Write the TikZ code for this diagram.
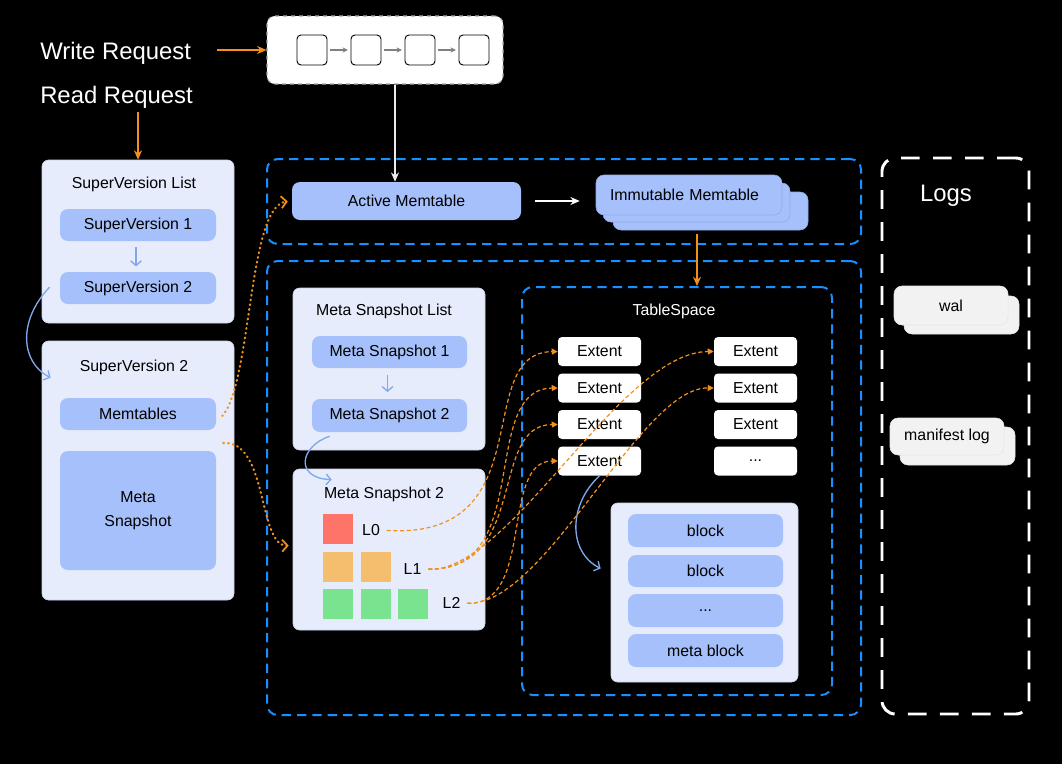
\documentclass[tikz,border=0pt]{standalone}
\usepackage{fontspec}
\setmainfont{Liberation Sans}
\usetikzlibrary{arrows.meta,calc}
\definecolor{panelc}{HTML}{E6ECFC}
\definecolor{panelb}{HTML}{CDD4E6}
\definecolor{innerc}{HTML}{A5C0FA}
\definecolor{innerb}{HTML}{8FAAE6}
\definecolor{dashblue}{HTML}{1A8FFF}
\definecolor{orng}{HTML}{F39019}
\definecolor{lightarr}{HTML}{7FA8EC}
\definecolor{logc}{HTML}{F2F2F2}
\definecolor{redc}{HTML}{FF7468}
\definecolor{orc}{HTML}{F5BE6E}
\definecolor{grc}{HTML}{7AE38F}
\begin{document}
\begin{tikzpicture}[x=0.75pt,y=-0.75pt,
  font=\fontsize{11.9}{14}\selectfont,
  sz/.style 2 args={minimum width=#1*0.75pt,minimum height=#2*0.75pt,inner sep=0pt},
  panel/.style={draw=panelb,fill=panelc,rounded corners=5pt,line width=0.5pt},
  inner/.style={fill=innerc,rounded corners=6pt},
  stackbox/.style={fill=innerc,draw=innerb,line width=0.4pt,rounded corners=6pt},
  extbox/.style={fill=white,rounded corners=3pt},
  logbox/.style={fill=logc,draw=white!80!gray,line width=0.4pt,rounded corners=6pt},
  dashbox/.style={draw=dashblue,line width=1.5pt,dash pattern=on 7pt off 4.5pt,rounded corners=8pt},
  sqbox/.style={draw=black,fill=white,line width=0.7pt,rounded corners=3pt},
  lvl/.style={sz={30}{30}},
  bigtext/.style={text=white,font=\fontsize{17.9}{20}\selectfont},
  title/.style={inner sep=0pt},
  orarrow/.style={draw=orng,line width=1.3pt,-{Stealth[length=7pt,width=6pt]}},
  wharrow/.style={draw=white,line width=1pt,-{Stealth[length=7pt,width=6pt]}},
  blarrow/.style={draw=lightarr,line width=1pt,-{Straight Barb[length=3.5pt,width=8pt]}},
  dotarrow/.style={draw=orng,line width=1.6pt,line cap=round,dash pattern=on 0.6pt off 3pt,-{Straight Barb[length=4pt,width=9pt,line width=1.3pt]}},
  dasharrow/.style={draw=orng,line width=0.9pt,dash pattern=on 3pt off 2pt,shorten <=5pt,-{Triangle[length=4.5pt,width=4.5pt]}},
]
\fill[black] (0,0) rectangle (1062,764);
\useasboundingbox (0,0) rectangle (1062,764);

% requests
\node[bigtext,anchor=west,inner sep=0pt] (wr) at (40,53) {Write Request};
\node[bigtext,anchor=west,inner sep=0pt] (rr) at (40,97) {Read Request};

% queue
\node[fill=white,draw=gray!70,dashed,line width=0.8pt,rounded corners=6pt,sz={236}{68}] (q) at (385,50) {};
\node[sqbox,sz={30}{30}] (q1) at (312,50) {};
\node[sqbox,sz={30}{30}] (q2) at (366,50) {};
\node[sqbox,sz={30}{30}] (q3) at (420,50) {};
\node[sqbox,sz={30}{30}] (q4) at (474,50) {};
\foreach \a/\b in {q1/q2,q2/q3,q3/q4}
  \draw[gray,line width=0.8pt,-{Stealth[length=4pt,width=4pt]},shorten <=2pt,shorten >=2pt] (\a) -- (\b);
\coordinate (wa) at (217,50);
\draw[orarrow] (wa) -- (q.west);

% SuperVersion list
\node[panel,sz={192}{163}] (svl) at (138,241.5) {};
\node[title] (svlt) at (134,184) {SuperVersion List};
\node[inner,sz={156}{32}] (sv1) at (138,225) {SuperVersion 1};
\node[inner,sz={156}{32}] (sv2) at (138,288) {SuperVersion 2};
\draw[blarrow,shorten <=4pt,shorten >=4pt] ($(sv1.south)+(-2,0)$) -- ($(sv2.north)+(-2,0)$);
\coordinate (ra) at (138,112);
\draw[orarrow] (ra) -- (svl.north);

% SuperVersion 2
\node[panel,sz={192}{259}] (svp) at (138,470.5) {};
\node[title] (svpt) at (134,367) {SuperVersion 2};
\node[inner,sz={156}{32}] (mt) at (138,414) {Memtables};
\node[inner,sz={156}{119},align=center,font=\fontsize{11.9}{18}\selectfont] (msn) at (138,510.5) {Meta\\Snapshot};
\draw[blarrow] ($(sv2.west)+(-10,-1)$) .. controls (18,320) and (20,362) .. ($(svp.north west)+(9,37)$);

% memtable region
\node[dashbox,sz={594}{85}] (memr) at (564,201.5) {};
\node[inner,sz={229}{38}] (am) at (406.5,201) {Active Memtable};
\node[stackbox,sz={195}{38}] (imm3) at (710.5,211) {};
\node[stackbox,sz={187}{39}] (imm2) at (696.5,202.5) {};
\node[stackbox,sz={186}{40},text width=158*0.75pt,align=left] (imm1) at (689,195) {Immutable Memtable};
\draw[wharrow,shorten <=10pt,shorten >=12pt] (am.east) -- (am.east -| imm1.west);
\draw[draw=white!85!gray,line width=1pt,-{Stealth[length=7pt,width=6pt]}] ($(q.south)+(10,0)$) -- ($(am.north)+(-11.5,0)$);

% storage region
\node[dashbox,sz={594}{454}] (stor) at (564,488) {};
\node[panel,sz={192}{162}] (msl) at (389,369) {};
\node[title] (mslt) at (384,311) {Meta Snapshot List};
\node[inner,sz={155}{32}] (ms1) at (389.5,352) {Meta Snapshot 1};
\node[inner,sz={155}{33}] (ms2) at (389.5,415.5) {Meta Snapshot 2};
\draw[blarrow,shorten <=5pt,shorten >=5pt] ($(ms1.south)+(-2,0)$) -- ($(ms2.north)+(-2,0)$);

\node[panel,sz={192}{161}] (msp) at (389,549.5) {};
\node[title] (mspt) at (384,494) {Meta Snapshot 2};
\node[fill=redc,lvl] (r0) at (338,529) {};
\node[fill=orc,lvl] (o1) at (338,566.5) {};
\node[fill=orc,lvl] (o2) at (375.5,566.5) {};
\node[fill=grc,lvl] (g1) at (338,604) {};
\node[fill=grc,lvl] (g2) at (375.5,604) {};
\node[fill=grc,lvl] (g3) at (413,604) {};
\node[title] (l0) at (371,530) {L0};
\node[title] (l1) at (412.5,569) {L1};
\node[title] (l2) at (451.5,603) {L2};
\draw[blarrow] ($(ms2.south west)+(18,4)$) .. controls (300,446) and (294,478) .. ($(msp.north west)+(39,11)$);

% TableSpace
\node[dashbox,sz={310}{408}] (ts) at (677,491) {};
\node[title,text=white] (tst) at (674,311) {TableSpace};
\node[extbox,sz={83}{29}] (e1) at (599.5,351.5) {Extent};
\node[extbox,sz={83}{29}] (e2) at (599.5,388) {Extent};
\node[extbox,sz={83}{29}] (e3) at (599.5,424.5) {Extent};
\node[extbox,sz={83}{29}] (e4) at (599.5,461) {Extent};
\node[extbox,sz={83}{29}] (f1) at (755.5,351.5) {Extent};
\node[extbox,sz={83}{29}] (f2) at (755.5,388) {Extent};
\node[extbox,sz={83}{29}] (f3) at (755.5,424.5) {Extent};
\node[extbox,sz={83}{29}] (f4) at (755.5,461) {...};
\node[panel,sz={187}{179}] (blk) at (704.5,592.5) {};
\node[inner,sz={155}{33}] (b1) at (705.5,530.5) {block};
\node[inner,sz={155}{32}] (b2) at (705.5,571) {block};
\node[inner,sz={155}{33}] (b3) at (705.5,610.5) {...};
\node[inner,sz={155}{33}] (b4) at (705.5,650.5) {meta block};
\draw[blarrow] (e4.south) .. controls (568,505) and (568,552) .. ($(blk.west)+(-10,-24)$);
\coordinate (ia) at (697,234);
\draw[orarrow] (ia) -- (ia |- ts.north);

% level -> extent connectors
\draw[dasharrow] (l0.east) .. controls (545,540) and (470,353) .. (e1.west);
\draw[dasharrow] (l1.east) .. controls (535,572) and (478,389) .. (e2.west);
\draw[dasharrow] (l1.east) .. controls (530,570) and (488,425) .. (e3.west);
\draw[dasharrow] (l1.east) .. controls (510,573) and (620,352) .. (f1.west);
\draw[dasharrow] (l2.east) .. controls (535,606) and (500,461) .. (e4.west);
\draw[dasharrow] (l2.east) .. controls (545,607) and (640,387) .. (f2.west);

% dotted references
\draw[dotarrow,shorten >=3pt] ($(mt.east)+(6,2)$) .. controls (252,382) and (248,206) .. (am.west);
\draw[dotarrow,shorten >=3pt] ($(mt.east)+(7,29)$) .. controls (268,440) and (258,546) .. ($(msp.west)+(0,-4)$);

% Logs
\node[draw=white,line width=2.2pt,dash pattern=on 14pt off 10pt,rounded corners=10pt,sz={147}{556}] (logs) at (955.5,436) {};
\node[bigtext,inner sep=0pt] (logst) at (946,196) {Logs};
\node[logbox,sz={115}{38}] (wal2) at (961.5,315) {};
\node[logbox,sz={114}{39}] (wal1) at (951,305.5) {wal};
\node[logbox,sz={115}{38}] (man2) at (957.5,446) {};
\node[logbox,sz={114}{37}] (man1) at (947,436.5) {manifest log};
\end{tikzpicture}
\end{document}
